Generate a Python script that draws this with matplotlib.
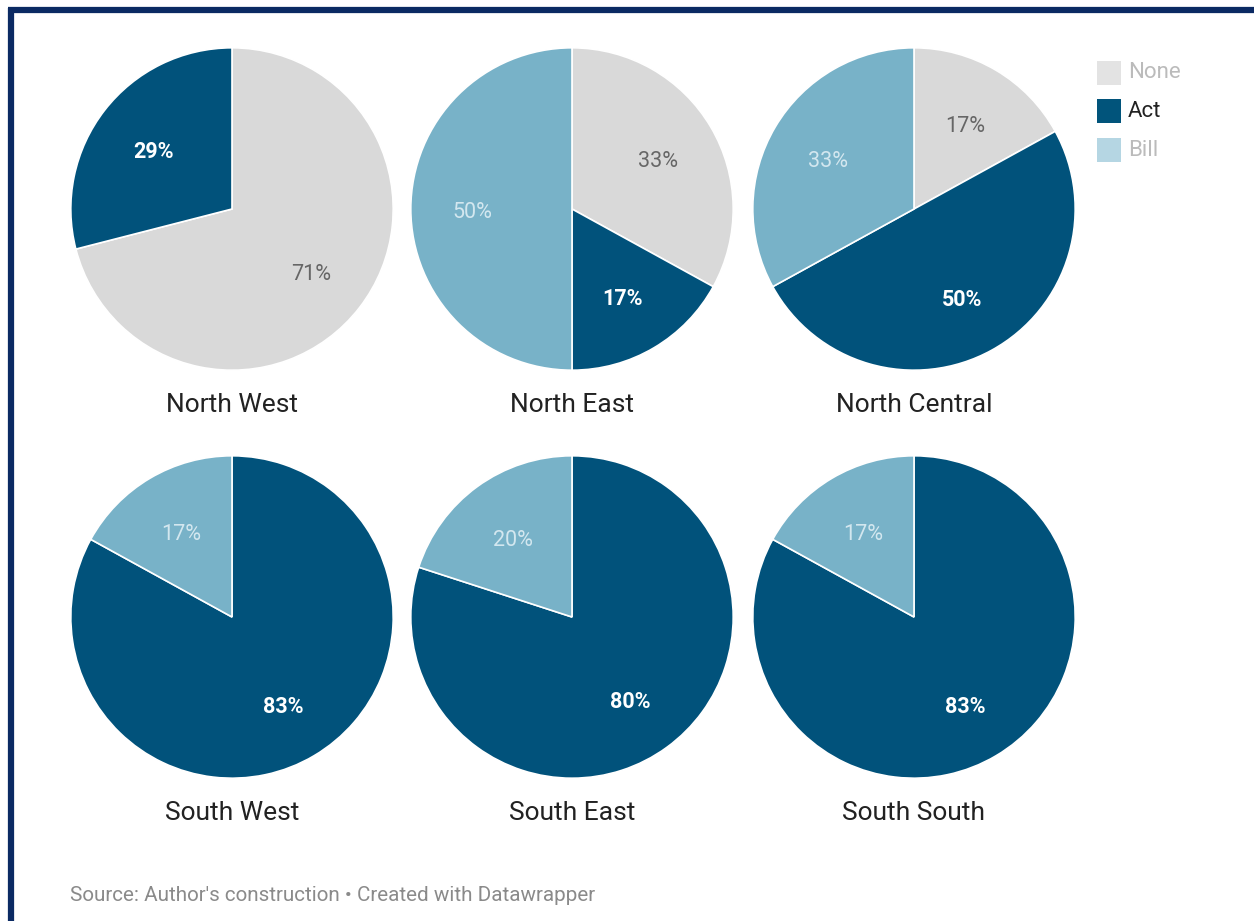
import matplotlib
matplotlib.use("Agg")
import matplotlib.pyplot as plt
from matplotlib.patches import Rectangle
from matplotlib.lines import Line2D

plt.rcParams['font.family'] = ['Roboto', 'DejaVu Sans']

regions = ["North West", "North East", "North Central",
           "South West", "South East", "South South"]
categories = ["None", "Act", "Bill"]
none_vals = [71, 33, 17, 0, 0, 0]
act_vals = [29, 17, 50, 83, 80, 83]
bill_vals = [0, 50, 33, 17, 20, 17]

colors = {"None": "#d9d9d9", "Act": "#01527b", "Bill": "#78b2c8"}
label_colors = {"None": "#666666", "Act": "#ffffff", "Bill": "#d3e7ef"}
label_weights = {"None": "normal", "Act": "bold", "Bill": "normal"}

W, H = 1254, 921
fig = plt.figure(figsize=(W / 100, H / 100), dpi=100)
fig.patch.set_facecolor("white")

centers_x = [232, 572, 914]
centers_y = [209, 617]
R = 162

for i, name in enumerate(regions):
    cx = centers_x[i % 3]
    cy = centers_y[i // 3]
    ax = fig.add_axes([(cx - R) / W, (H - cy - R) / H, 2 * R / W, 2 * R / H])
    vals = [none_vals[i], act_vals[i], bill_vals[i]]
    cats = [c for c, v in zip(categories, vals) if v > 0]
    vs = [v for v in vals if v > 0]
    wedges, texts, autotexts = ax.pie(
        vs, colors=[colors[c] for c in cats], startangle=90, counterclock=False,
        autopct='%.0f%%', pctdistance=0.62, radius=1,
        wedgeprops=dict(edgecolor="white", linewidth=1.2),
        textprops=dict(fontsize=15.5))
    for c, t in zip(cats, autotexts):
        t.set_color(label_colors[c])
        t.set_fontweight(label_weights[c])
        x, y = t.get_position()
        t.set_position((x, y - 0.024))
    ax.set_xlim(-1.005, 1.005)
    ax.set_ylim(-1.005, 1.005)
    ax.axis("off")
    fig.text(cx / W, 1 - (cy + 196) / H, name, ha="center", va="center",
             fontsize=19, color="#222222")

# legend
leg_y = [73, 111, 150]
leg_sw = {"None": "#e3e3e3", "Act": "#01547b", "Bill": "#b5d6e3"}
leg_tc = {"None": "#bbbbbb", "Act": "#222222", "Bill": "#bbbbbb"}
for c, y in zip(categories, leg_y):
    fig.patches.append(Rectangle(((1097) / W, 1 - (y + 12) / H), 24 / W, 24 / H,
                                 transform=fig.transFigure, facecolor=leg_sw[c],
                                 edgecolor="none"))
    fig.text(1128 / W, 1 - y / H, c, ha="left", va="center", fontsize=16,
             color=leg_tc[c])

fig.text(70 / W, 1 - 895 / H, "Source: Author's construction \u2022 Created with Datawrapper",
         ha="left", va="center", fontsize=14.9, color="#8a8a8a")

# frame (top and left edges)
fig.lines.append(Line2D([8 / W, 1], [1 - 10.5 / H, 1 - 10.5 / H], transform=fig.transFigure,
                        color="#0b2a63", linewidth=4.5, solid_capstyle="butt"))
fig.lines.append(Line2D([10.5 / W, 10.5 / W], [0, 1 - 8 / H], transform=fig.transFigure,
                        color="#0b2a63", linewidth=4.5, solid_capstyle="butt"))

fig.savefig("out.png", dpi=100)
